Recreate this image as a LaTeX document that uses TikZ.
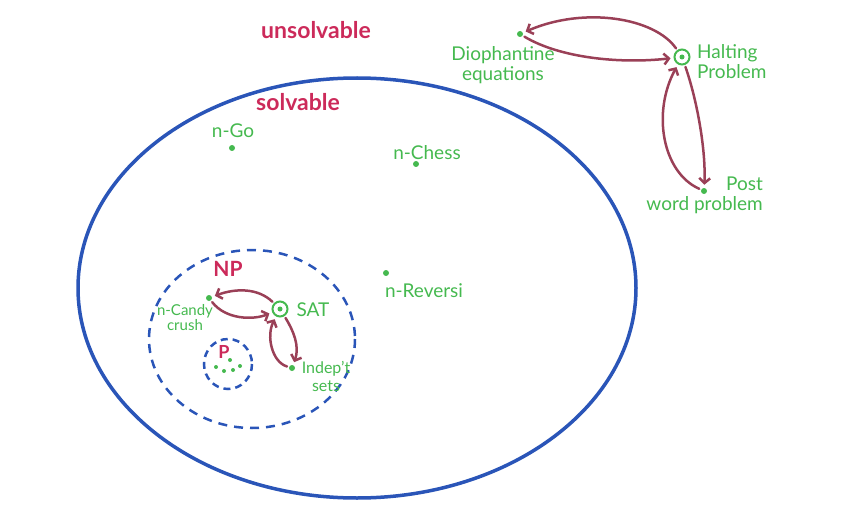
\documentclass[tikz,border=0pt]{standalone}
\usepackage{fontspec}
\setmainfont{Lato}
\usetikzlibrary{arrows.meta}
\definecolor{setblue}{HTML}{2A55B8}
\definecolor{probgreen}{HTML}{45B94F}
\definecolor{classred}{HTML}{CC2A5A}
\definecolor{redarrow}{HTML}{9A4057}
\tikzset{
  dot/.style={circle, fill=probgreen, inner sep=0pt, minimum size=6pt},
  hard/.style={circle, draw=probgreen, line width=2pt, fill=white, inner sep=0pt, minimum size=15pt,
    path picture={\fill[probgreen] (path picture bounding box.center) circle (2.5pt);}},
  lbl/.style={text=probgreen, font=\fontsize{19}{20}\selectfont, inner sep=1pt},
  cls/.style={text=classred, font=\fontsize{23}{25}\selectfont\bfseries},
  reduce/.style={redarrow, line width=2.5pt, line cap=round, -{Straight Barb[length=5pt,width=11pt]}, shorten >=3pt, shorten <=2pt},
}
\begin{document}
\begin{tikzpicture}[x=1pt, y=-1pt]
	\useasboundingbox (0,0) rectangle (865,524);
	
	% the sets
	\draw[setblue, line width=3.5pt] (357,288) ellipse [x radius=279, y radius=210];
	\draw[setblue, line width=2.5pt, dash pattern=on 9pt off 7pt] (252,339) ellipse [x radius=103, y radius=89];
	\draw[setblue, line width=2.5pt, dash pattern=on 7pt off 5pt] (228,364) ellipse [x radius=24, y radius=25];
	
	\node[cls] (U) at (316,30) {unsolvable};
	\node[cls] (S) at (298,102) {solvable};
	\node[cls, font=\fontsize{21}{23}\selectfont\bfseries] (NP) at (228,269) {NP};
	\node[cls, font=\fontsize{18}{20}\selectfont\bfseries] (P) at (224,352) {P};
	
	% undecidable problems
	\node[hard] (halt) at (682,57) {};
	\node[lbl, anchor=west, align=left] (haltL) at (696,62) {Halting\\Problem};
	\node[dot] (dio) at (520,34) {};
	\node[lbl, align=center] (dioL) at (503,65) {Diophantine\\equations};
	\node[dot] (post) at (704,191) {};
	\node[lbl, anchor=north east, align=right] (postL) at (764,176) {Post\\word problem};
	
	\draw[reduce] (halt) .. controls (655,18) and (585,6) .. (dio);
	\draw[reduce] (dio) .. controls (560,58) and (620,64) .. (halt);
	\draw[reduce] (halt) .. controls (697,100) and (706,150) .. (post);
	\draw[reduce] (post) .. controls (662,172) and (652,112) .. (halt);
	
	% decidable problems
	\node[dot] (go) at (232,148) {};
	\node[lbl] (goL) at (233,131) {n-Go};
	\node[dot] (chess) at (416,164) {};
	\node[lbl] (chessL) at (427,153) {n-Chess};
	\node[dot] (rev) at (386,273) {};
	\node[lbl] (revL) at (424,291) {n-Reversi};
	
	% inside NP
	\node[hard] (sat) at (280,309) {};
	\node[lbl] (satL) at (313,310) {SAT};
	\node[dot] (candy) at (209,298) {};
	\node[lbl, align=center, font=\fontsize{15}{15}\selectfont] (candyL) at (185,318) {n-Candy\\crush};
	\node[dot] (indep) at (292,368) {};
	\node[lbl, align=center, font=\fontsize{16}{18}\selectfont] (indepL) at (326,376) {Indep't\\sets};
	
	\draw[reduce] (sat) .. controls (258,288) and (236,288) .. (candy);
	\draw[reduce] (candy) .. controls (226,320) and (254,320) .. (sat);
	\draw[reduce] (sat) .. controls (293,330) and (300,346) .. (indep);
	\draw[reduce] (indep) .. controls (272,362) and (266,336) .. (sat);
	
	% P problems
	\foreach \px/\py in {216/367, 224/371, 233/370, 240/366, 230/360} {
		\fill[probgreen] (\px,\py) circle (2pt);
	}
\end{tikzpicture}
\end{document}
